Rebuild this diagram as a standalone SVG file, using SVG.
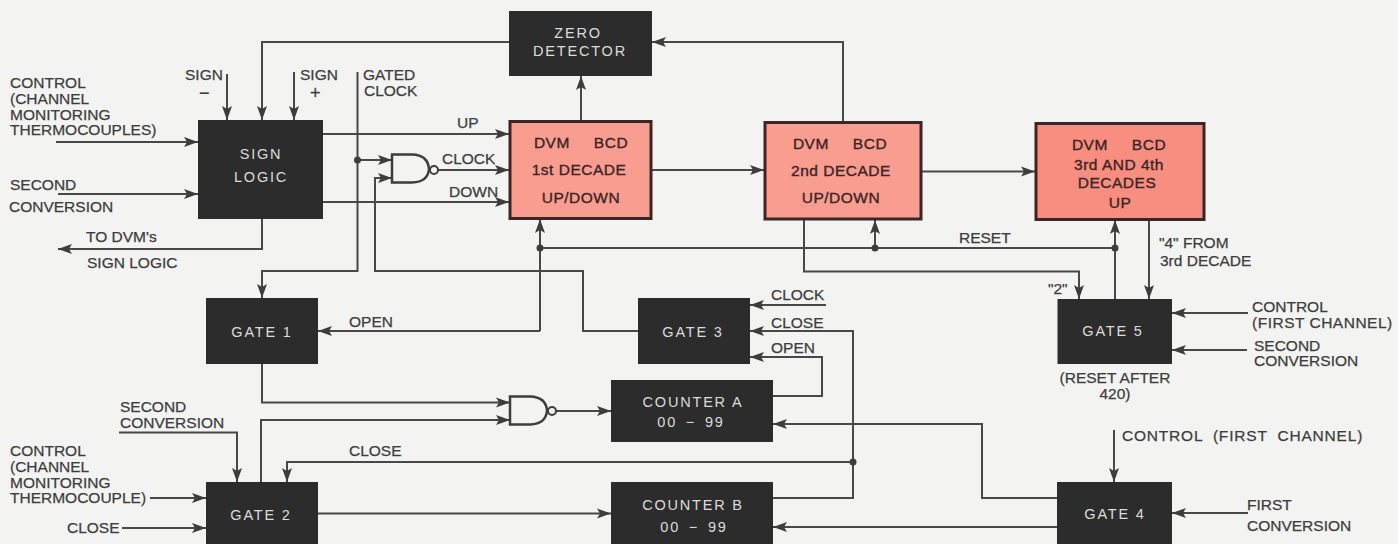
<svg xmlns="http://www.w3.org/2000/svg" width="1398" height="544" viewBox="0 0 1398 544">
<style>
text{font-family:"Liberation Sans",Arial,sans-serif;font-size:15.5px}
.l{fill:#3d3d3d;stroke:#3d3d3d;stroke-width:.25px}
.n{fill:#dcdcda;text-anchor:middle;letter-spacing:1.8px;font-size:14.5px}
.s{fill:#3a2424;stroke:#3a2424;stroke-width:.35px;text-anchor:middle;letter-spacing:.5px;font-size:15.5px}
.d{fill:#2d2c2c}
.p{fill:#f89d90;stroke:#3a2626;stroke-width:3}
.c{fill:none;stroke:#484848;stroke-width:2}
.a{marker-end:url(#ah)}
.j{fill:#3d3d3d}
.g{fill:none;stroke:#3d3d3d;stroke-width:2.5}
</style>
<defs>
<marker id="ah" markerUnits="userSpaceOnUse" markerWidth="14" markerHeight="12" refX="14" refY="6" orient="auto">
<path d="M14,6 L0,1 L3,6 L0,11 Z" fill="#3d3d3d"/>
</marker>
</defs>
<rect width="1398" height="544" fill="#f3f3f1"/>
<g id="connectors">
<path class="c a" d="M509,42H262V120"/>
<path class="c a" d="M227,74V120"/>
<path class="c a" d="M294,72V120"/>
<path class="c a" d="M357.500,72V271H262V298"/>
<path class="c a" d="M357.500,160H392"/>
<path class="c a" d="M638,331H583V271H375V178H392"/>
<path class="c a" d="M323,134H509"/>
<path class="c a" d="M438,170H509"/>
<path class="c a" d="M323,202H509"/>
<path class="c a" d="M56,142H198"/>
<path class="c a" d="M58,194H198"/>
<path class="c a" d="M262,219V249H58"/>
<path class="c a" d="M581,120V76"/>
<path class="c a" d="M843,121V42H652"/>
<path class="c a" d="M651,170H764"/>
<path class="c a" d="M922,171.500H1035"/>
<path class="c" d="M540,248H1115"/>
<path class="c a" d="M540,331V219"/>
<path class="c a" d="M540,331H318"/>
<path class="c a" d="M875,248V220"/>
<path class="c a" d="M1115,299V220"/>
<path class="c a" d="M804,220V271.500H1079V299"/>
<path class="c a" d="M1149,220V299"/>
<path class="c a" d="M1248,313H1172"/>
<path class="c a" d="M1247,350H1172"/>
<path class="c a" d="M826,305H750"/>
<path class="c a" d="M773,498H853V331H750"/>
<path class="c a" d="M853,462H287V482"/>
<path class="c a" d="M773,396H822V357H750"/>
<path class="c a" d="M556,411H611"/>
<path class="c a" d="M1057,498H982V424H773"/>
<path class="c a" d="M1057,527H773"/>
<path class="c a" d="M318,513.500H611"/>
<path class="c a" d="M261,482V420H510"/>
<path class="c a" d="M262,364V402.500H510"/>
<path class="c a" d="M119,432.500H237V482"/>
<path class="c a" d="M150,498H206"/>
<path class="c a" d="M122,528H206"/>
<path class="c a" d="M1114,430V482"/>
<path class="c a" d="M1248,513H1172"/>
<circle class="j" cx="357.500" cy="160" r="3.500"/>
<circle class="j" cx="540" cy="248" r="3.500"/>
<circle class="j" cx="875" cy="248" r="3.500"/>
<circle class="j" cx="1115" cy="248" r="3.500"/>
<circle class="j" cx="853" cy="462" r="3.500"/>
</g>
<g id="zero-detector"><rect class="d" x="509" y="11" width="143" height="65"/><text class="n" x="578" y="38">ZERO</text><text class="n" x="580" y="56">DETECTOR</text></g>
<g id="sign-logic"><rect class="d" x="198" y="120" width="125" height="99"/><text class="n" x="261" y="159">SIGN</text><text class="n" x="261" y="182">LOGIC</text></g>
<g id="decade-1"><rect class="p" x="510" y="121.500" width="141" height="97"/><text class="s" x="581" y="148">DVM<tspan dx="24">BCD</tspan></text><text class="s" x="579" y="175">1st DECADE</text><text class="s" x="581" y="203">UP/DOWN</text></g>
<g id="decade-2"><rect class="p" x="765" y="122.500" width="156" height="96.500"/><text class="s" x="840" y="149">DVM<tspan dx="24">BCD</tspan></text><text class="s" x="841" y="176">2nd DECADE</text><text class="s" x="841" y="203">UP/DOWN</text></g>
<g id="decade-3"><rect class="p" style="fill:#f78e80" x="1036" y="123.500" width="168" height="96"/><text class="s" x="1119" y="150">DVM<tspan dx="24">BCD</tspan></text><text class="s" x="1119" y="170">3rd AND 4th</text><text class="s" x="1117" y="188">DECADES</text><text class="s" x="1120" y="208">UP</text></g>
<g id="gate-1"><rect class="d" x="206" y="298" width="112" height="66"/><text class="n" x="262" y="337">GATE 1</text></g>
<g id="gate-2"><rect class="d" x="206" y="482" width="112" height="62"/><text class="n" x="261" y="520">GATE 2</text></g>
<g id="gate-3"><rect class="d" x="638" y="298" width="112" height="66"/><text class="n" x="693" y="337">GATE 3</text></g>
<g id="gate-4"><rect class="d" x="1057" y="482" width="115" height="62"/><text class="n" x="1115" y="519">GATE 4</text></g>
<g id="gate-5"><rect class="d" x="1057.500" y="299" width="114.500" height="65"/><text class="n" x="1113" y="336">GATE 5</text></g>
<g id="counter-a"><rect class="d" x="611" y="380" width="162" height="62"/><text class="n" x="693" y="407">COUNTER A</text><text class="n" x="691" y="427" style="word-spacing:3px">00 − 99</text></g>
<g id="counter-b"><rect class="d" x="611" y="482" width="162" height="62"/><text class="n" x="693" y="510">COUNTER B</text><text class="n" x="694" y="532" style="word-spacing:3px">00 − 99</text></g>
<g id="nand-1"><path d="M392,154.500H412Q428,155 429,169Q428,182 412,182.500H392Z" class="g"/><circle cx="434" cy="170" r="4" class="g" style="stroke-width:2"/></g>
<g id="nand-2"><path d="M510,396.500H530Q546,397 547,410.500Q546,424 530,424.500H510Z" class="g"/><circle cx="552" cy="411" r="4" class="g" style="stroke-width:2"/></g>
<g id="labels">
<text class="l" x="10" y="88">CONTROL</text><text class="l" x="10" y="104">(CHANNEL</text><text class="l" x="10" y="120">MONITORING</text><text class="l" x="10" y="135">THERMOCOUPLES)</text>
<text class="l" x="10" y="190">SECOND</text><text class="l" x="9" y="212">CONVERSION</text>
<text class="l" x="86" y="242">TO DVM's</text><text class="l" x="87" y="268">SIGN LOGIC</text>
<text class="l" x="185" y="80">SIGN</text><text class="l" x="199" y="99" style="font-size:18px">−</text><text class="l" x="300" y="80">SIGN</text><text class="l" x="310" y="99" style="font-size:18px">+</text>
<text class="l" x="363" y="80">GATED</text><text class="l" x="364" y="96">CLOCK</text>
<text class="l" x="457" y="128">UP</text><text class="l" x="442" y="164">CLOCK</text><text class="l" x="449" y="197">DOWN</text>
<text class="l" x="959" y="243">RESET</text><text class="l" x="1048" y="294">"2"</text><text class="l" x="1159" y="248">"4" FROM</text><text class="l" x="1160" y="266">3rd DECADE</text>
<text class="l" x="1252" y="312">CONTROL</text><text class="l" x="1252" y="328" style="letter-spacing:.5px">(FIRST CHANNEL)</text><text class="l" x="1254" y="351">SECOND</text><text class="l" x="1254" y="366">CONVERSION</text>
<text class="l" x="1115" y="383" text-anchor="middle">(RESET AFTER</text><text class="l" x="1115" y="399" text-anchor="middle">420)</text>
<text class="l" x="349" y="327">OPEN</text><text class="l" x="771" y="300">CLOCK</text><text class="l" x="771" y="328">CLOSE</text><text class="l" x="771" y="353">OPEN</text>
<text class="l" x="120" y="412">SECOND</text><text class="l" x="120" y="428">CONVERSION</text>
<text class="l" x="10" y="456">CONTROL</text><text class="l" x="10" y="472">(CHANNEL</text><text class="l" x="10" y="488">MONITORING</text><text class="l" x="10" y="503">THERMOCOUPLE)</text>
<text class="l" x="67" y="533">CLOSE</text><text class="l" x="349" y="456">CLOSE</text>
<text class="l" x="1122" y="441" style="letter-spacing:.8px;word-spacing:5px">CONTROL (FIRST CHANNEL)</text><text class="l" x="1247" y="510">FIRST</text><text class="l" x="1247" y="531">CONVERSION</text>
</g>
</svg>
